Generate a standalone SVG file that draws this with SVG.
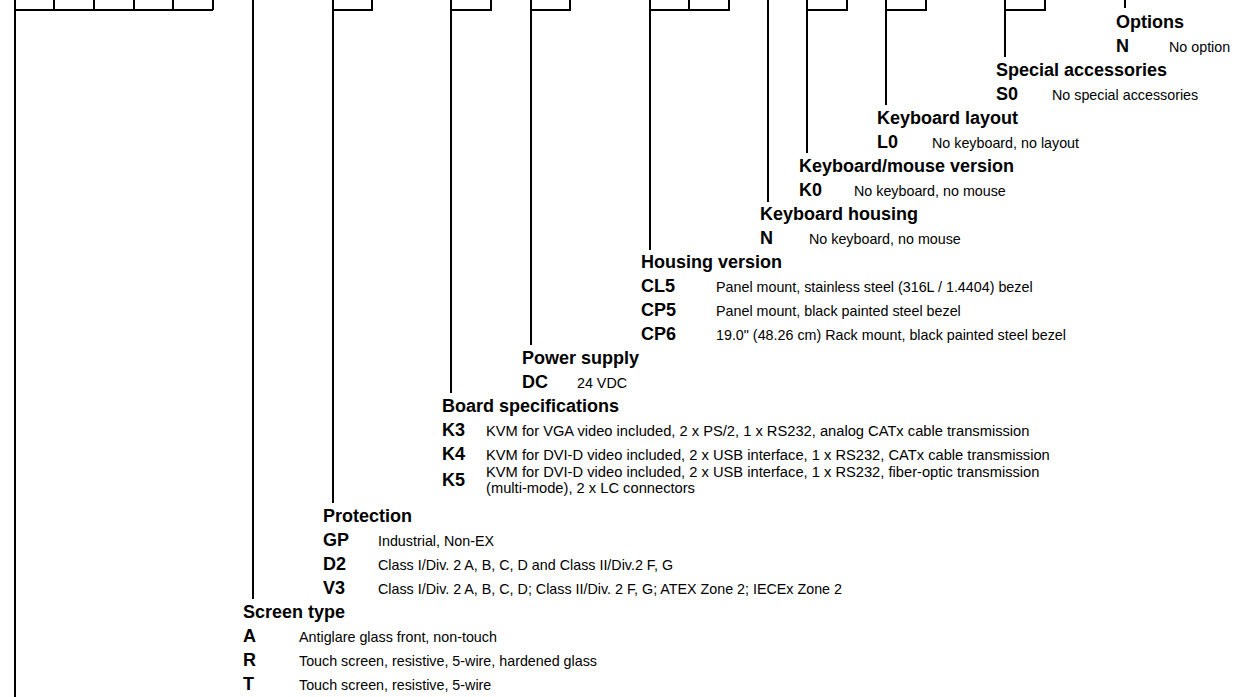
<svg xmlns="http://www.w3.org/2000/svg" width="1244" height="697" viewBox="0 0 1244 697">
<style>
.ln{stroke:#000;stroke-width:2;fill:none;stroke-linecap:butt}
text{font-family:"Liberation Sans",Arial,sans-serif;fill:#000}
.h{font-size:18px;font-weight:bold}
.c{font-size:18px;font-weight:bold}
.d{font-size:14.3px}
.db{font-size:14.7px}
</style>
<rect width="1244" height="697" fill="#fff"/>
<g id="connectors">
<path class="ln" d="M15,0V697M54,0V10M94,0V10M134,0V10M173,0V10M213,0V10M15,10H213"/>
<path class="ln" d="M253,0V599"/>
<path class="ln" d="M333,503V10H372V0M333,10V0"/>
<path class="ln" d="M451,393V10H491V0M451,10V0"/>
<path class="ln" d="M531,345V10H570V0M531,10V0"/>
<path class="ln" d="M650,250V10H729V0M650,10V0M689,10V0"/>
<path class="ln" d="M768,0V202"/>
<path class="ln" d="M807,153V10H847V0M807,10V0"/>
<path class="ln" d="M886,105V10H926V0M886,10V0"/>
<path class="ln" d="M1005,57V10H1045V0M1005,10V0"/>
<path class="ln" d="M1125,0V8"/>
</g>
<g id="options">
<text class="h" x="1116" y="28">Options</text>
<text class="c" x="1116" y="52">N</text><text class="d" x="1169" y="52">No option</text>
</g>
<g id="special-accessories">
<text class="h" x="996" y="76">Special accessories</text>
<text class="c" x="996" y="100">S0</text><text class="d" x="1052" y="100">No special accessories</text>
</g>
<g id="keyboard-layout">
<text class="h" x="877" y="124">Keyboard layout</text>
<text class="c" x="877" y="148">L0</text><text class="d" x="932" y="148">No keyboard, no layout</text>
</g>
<g id="keyboard-mouse-version">
<text class="h" x="799" y="172">Keyboard/mouse version</text>
<text class="c" x="799" y="196">K0</text><text class="d" x="854" y="196">No keyboard, no mouse</text>
</g>
<g id="keyboard-housing">
<text class="h" x="760" y="220">Keyboard housing</text>
<text class="c" x="760" y="244">N</text><text class="d" x="809" y="244">No keyboard, no mouse</text>
</g>
<g id="housing-version">
<text class="h" x="641" y="268">Housing version</text>
<text class="c" x="641" y="292">CL5</text><text class="d" x="716" y="292">Panel mount, stainless steel (316L / 1.4404) bezel</text>
<text class="c" x="641" y="316">CP5</text><text class="d" x="716" y="316">Panel mount, black painted steel bezel</text>
<text class="c" x="641" y="340">CP6</text><text class="d" x="716" y="340">19.0" (48.26 cm) Rack mount, black painted steel bezel</text>
</g>
<g id="power-supply">
<text class="h" x="522" y="364">Power supply</text>
<text class="c" x="522" y="388">DC</text><text class="d" x="577" y="388">24 VDC</text>
</g>
<g id="board-specifications">
<text class="h" x="442" y="412">Board specifications</text>
<text class="c" x="442" y="436">K3</text><text class="db" x="486" y="436">KVM for VGA video included, 2 x PS/2, 1 x RS232, analog CATx cable transmission</text>
<text class="c" x="442" y="460">K4</text><text class="db" x="486" y="460">KVM for DVI-D video included, 2 x USB interface, 1 x RS232, CATx cable transmission</text>
<text class="c" x="442" y="486">K5</text><text class="db" x="486" y="477">KVM for DVI-D video included, 2 x USB interface, 1 x RS232, fiber-optic transmission</text>
<text class="db" x="486" y="493">(multi-mode), 2 x LC connectors</text>
</g>
<g id="protection">
<text class="h" x="323" y="522">Protection</text>
<text class="c" x="323" y="546">GP</text><text class="d" x="378" y="546">Industrial, Non-EX</text>
<text class="c" x="323" y="570">D2</text><text class="d" x="378" y="570">Class I/Div. 2 A, B, C, D and Class II/Div.2 F, G</text>
<text class="c" x="323" y="594">V3</text><text class="d" x="378" y="594">Class I/Div. 2 A, B, C, D; Class II/Div. 2 F, G; ATEX Zone 2; IECEx Zone 2</text>
</g>
<g id="screen-type">
<text class="h" x="243" y="618">Screen type</text>
<text class="c" x="243" y="642">A</text><text class="d" x="299" y="642">Antiglare glass front, non-touch</text>
<text class="c" x="243" y="666">R</text><text class="d" x="299" y="666">Touch screen, resistive, 5-wire, hardened glass</text>
<text class="c" x="243" y="690">T</text><text class="d" x="299" y="690">Touch screen, resistive, 5-wire</text>
</g>
</svg>
